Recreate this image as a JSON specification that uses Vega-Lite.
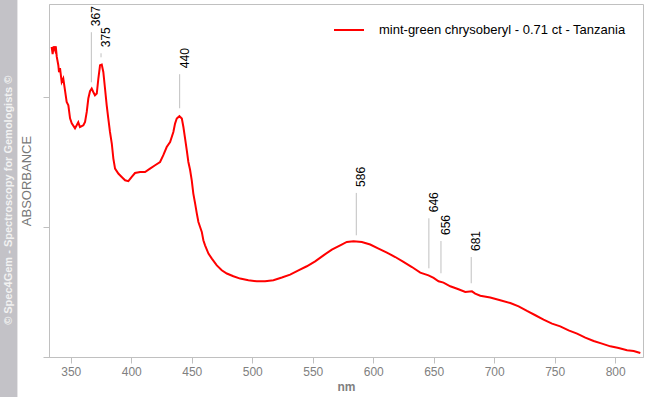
{
  "$schema": "https://vega.github.io/schema/vega-lite/v6.json",
  "width": 594,
  "height": 353,
  "autosize": {"type": "none"},
  "padding": {"left": 49, "top": 4, "right": 2, "bottom": 40},
  "background": "white",
  "config": {
    "view": {"stroke": "#c0c0c0", "strokeWidth": 1},
    "font": "Liberation Sans",
    "axis": {
      "grid": false,
      "domainColor": "#c0c0c0",
      "tickColor": "#c0c0c0",
      "tickSize": 6,
      "labelColor": "#808080",
      "labelFont": "Liberation Sans",
      "labelFontSize": 12,
      "titleColor": "#808080",
      "titleFont": "Liberation Sans"
    }
  },
  "datasets": {
    "spectrum": [
      {"nm": 334.2, "a": 2.385, "s": "mint-green chrysoberyl - 0.71 ct - Tanzania"},
      {"nm": 335.0, "a": 2.33, "s": "mint-green chrysoberyl - 0.71 ct - Tanzania"},
      {"nm": 335.8, "a": 2.39, "s": "mint-green chrysoberyl - 0.71 ct - Tanzania"},
      {"nm": 337.0, "a": 2.36, "s": "mint-green chrysoberyl - 0.71 ct - Tanzania"},
      {"nm": 337.6, "a": 2.39, "s": "mint-green chrysoberyl - 0.71 ct - Tanzania"},
      {"nm": 338.4, "a": 2.31, "s": "mint-green chrysoberyl - 0.71 ct - Tanzania"},
      {"nm": 339.7, "a": 2.244, "s": "mint-green chrysoberyl - 0.71 ct - Tanzania"},
      {"nm": 340.3, "a": 2.19, "s": "mint-green chrysoberyl - 0.71 ct - Tanzania"},
      {"nm": 341.1, "a": 2.221, "s": "mint-green chrysoberyl - 0.71 ct - Tanzania"},
      {"nm": 342.5, "a": 2.115, "s": "mint-green chrysoberyl - 0.71 ct - Tanzania"},
      {"nm": 343.8, "a": 2.142, "s": "mint-green chrysoberyl - 0.71 ct - Tanzania"},
      {"nm": 345.2, "a": 2.052, "s": "mint-green chrysoberyl - 0.71 ct - Tanzania"},
      {"nm": 346.6, "a": 1.962, "s": "mint-green chrysoberyl - 0.71 ct - Tanzania"},
      {"nm": 348.0, "a": 1.936, "s": "mint-green chrysoberyl - 0.71 ct - Tanzania"},
      {"nm": 349.4, "a": 1.836, "s": "mint-green chrysoberyl - 0.71 ct - Tanzania"},
      {"nm": 350.8, "a": 1.798, "s": "mint-green chrysoberyl - 0.71 ct - Tanzania"},
      {"nm": 353.5, "a": 1.759, "s": "mint-green chrysoberyl - 0.71 ct - Tanzania"},
      {"nm": 354.9, "a": 1.782, "s": "mint-green chrysoberyl - 0.71 ct - Tanzania"},
      {"nm": 356.2, "a": 1.805, "s": "mint-green chrysoberyl - 0.71 ct - Tanzania"},
      {"nm": 357.6, "a": 1.769, "s": "mint-green chrysoberyl - 0.71 ct - Tanzania"},
      {"nm": 360.4, "a": 1.782, "s": "mint-green chrysoberyl - 0.71 ct - Tanzania"},
      {"nm": 361.8, "a": 1.808, "s": "mint-green chrysoberyl - 0.71 ct - Tanzania"},
      {"nm": 363.2, "a": 1.885, "s": "mint-green chrysoberyl - 0.71 ct - Tanzania"},
      {"nm": 364.5, "a": 1.988, "s": "mint-green chrysoberyl - 0.71 ct - Tanzania"},
      {"nm": 365.9, "a": 2.044, "s": "mint-green chrysoberyl - 0.71 ct - Tanzania"},
      {"nm": 367.3, "a": 2.065, "s": "mint-green chrysoberyl - 0.71 ct - Tanzania"},
      {"nm": 368.6, "a": 2.038, "s": "mint-green chrysoberyl - 0.71 ct - Tanzania"},
      {"nm": 370.0, "a": 2.013, "s": "mint-green chrysoberyl - 0.71 ct - Tanzania"},
      {"nm": 371.5, "a": 2.026, "s": "mint-green chrysoberyl - 0.71 ct - Tanzania"},
      {"nm": 372.8, "a": 2.142, "s": "mint-green chrysoberyl - 0.71 ct - Tanzania"},
      {"nm": 374.2, "a": 2.244, "s": "mint-green chrysoberyl - 0.71 ct - Tanzania"},
      {"nm": 375.6, "a": 2.249, "s": "mint-green chrysoberyl - 0.71 ct - Tanzania"},
      {"nm": 376.9, "a": 2.192, "s": "mint-green chrysoberyl - 0.71 ct - Tanzania"},
      {"nm": 378.3, "a": 2.065, "s": "mint-green chrysoberyl - 0.71 ct - Tanzania"},
      {"nm": 379.7, "a": 1.936, "s": "mint-green chrysoberyl - 0.71 ct - Tanzania"},
      {"nm": 381.0, "a": 1.836, "s": "mint-green chrysoberyl - 0.71 ct - Tanzania"},
      {"nm": 382.4, "a": 1.731, "s": "mint-green chrysoberyl - 0.71 ct - Tanzania"},
      {"nm": 383.9, "a": 1.642, "s": "mint-green chrysoberyl - 0.71 ct - Tanzania"},
      {"nm": 385.2, "a": 1.526, "s": "mint-green chrysoberyl - 0.71 ct - Tanzania"},
      {"nm": 386.6, "a": 1.449, "s": "mint-green chrysoberyl - 0.71 ct - Tanzania"},
      {"nm": 389.3, "a": 1.411, "s": "mint-green chrysoberyl - 0.71 ct - Tanzania"},
      {"nm": 392.1, "a": 1.385, "s": "mint-green chrysoberyl - 0.71 ct - Tanzania"},
      {"nm": 394.9, "a": 1.359, "s": "mint-green chrysoberyl - 0.71 ct - Tanzania"},
      {"nm": 397.6, "a": 1.352, "s": "mint-green chrysoberyl - 0.71 ct - Tanzania"},
      {"nm": 400.4, "a": 1.385, "s": "mint-green chrysoberyl - 0.71 ct - Tanzania"},
      {"nm": 403.1, "a": 1.415, "s": "mint-green chrysoberyl - 0.71 ct - Tanzania"},
      {"nm": 407.3, "a": 1.423, "s": "mint-green chrysoberyl - 0.71 ct - Tanzania"},
      {"nm": 411.4, "a": 1.423, "s": "mint-green chrysoberyl - 0.71 ct - Tanzania"},
      {"nm": 415.5, "a": 1.449, "s": "mint-green chrysoberyl - 0.71 ct - Tanzania"},
      {"nm": 419.7, "a": 1.475, "s": "mint-green chrysoberyl - 0.71 ct - Tanzania"},
      {"nm": 423.8, "a": 1.5, "s": "mint-green chrysoberyl - 0.71 ct - Tanzania"},
      {"nm": 426.5, "a": 1.552, "s": "mint-green chrysoberyl - 0.71 ct - Tanzania"},
      {"nm": 429.3, "a": 1.615, "s": "mint-green chrysoberyl - 0.71 ct - Tanzania"},
      {"nm": 432.1, "a": 1.654, "s": "mint-green chrysoberyl - 0.71 ct - Tanzania"},
      {"nm": 434.8, "a": 1.731, "s": "mint-green chrysoberyl - 0.71 ct - Tanzania"},
      {"nm": 436.2, "a": 1.795, "s": "mint-green chrysoberyl - 0.71 ct - Tanzania"},
      {"nm": 437.6, "a": 1.834, "s": "mint-green chrysoberyl - 0.71 ct - Tanzania"},
      {"nm": 439.8, "a": 1.852, "s": "mint-green chrysoberyl - 0.71 ct - Tanzania"},
      {"nm": 441.8, "a": 1.834, "s": "mint-green chrysoberyl - 0.71 ct - Tanzania"},
      {"nm": 443.1, "a": 1.769, "s": "mint-green chrysoberyl - 0.71 ct - Tanzania"},
      {"nm": 444.5, "a": 1.68, "s": "mint-green chrysoberyl - 0.71 ct - Tanzania"},
      {"nm": 445.9, "a": 1.59, "s": "mint-green chrysoberyl - 0.71 ct - Tanzania"},
      {"nm": 447.2, "a": 1.5, "s": "mint-green chrysoberyl - 0.71 ct - Tanzania"},
      {"nm": 448.6, "a": 1.44, "s": "mint-green chrysoberyl - 0.71 ct - Tanzania"},
      {"nm": 450.0, "a": 1.359, "s": "mint-green chrysoberyl - 0.71 ct - Tanzania"},
      {"nm": 451.3, "a": 1.257, "s": "mint-green chrysoberyl - 0.71 ct - Tanzania"},
      {"nm": 452.8, "a": 1.18, "s": "mint-green chrysoberyl - 0.71 ct - Tanzania"},
      {"nm": 454.2, "a": 1.103, "s": "mint-green chrysoberyl - 0.71 ct - Tanzania"},
      {"nm": 455.5, "a": 1.038, "s": "mint-green chrysoberyl - 0.71 ct - Tanzania"},
      {"nm": 456.9, "a": 1.0, "s": "mint-green chrysoberyl - 0.71 ct - Tanzania"},
      {"nm": 458.3, "a": 0.962, "s": "mint-green chrysoberyl - 0.71 ct - Tanzania"},
      {"nm": 459.6, "a": 0.898, "s": "mint-green chrysoberyl - 0.71 ct - Tanzania"},
      {"nm": 461.0, "a": 0.859, "s": "mint-green chrysoberyl - 0.71 ct - Tanzania"},
      {"nm": 463.8, "a": 0.795, "s": "mint-green chrysoberyl - 0.71 ct - Tanzania"},
      {"nm": 466.6, "a": 0.757, "s": "mint-green chrysoberyl - 0.71 ct - Tanzania"},
      {"nm": 470.7, "a": 0.705, "s": "mint-green chrysoberyl - 0.71 ct - Tanzania"},
      {"nm": 474.8, "a": 0.667, "s": "mint-green chrysoberyl - 0.71 ct - Tanzania"},
      {"nm": 479.0, "a": 0.642, "s": "mint-green chrysoberyl - 0.71 ct - Tanzania"},
      {"nm": 484.4, "a": 0.621, "s": "mint-green chrysoberyl - 0.71 ct - Tanzania"},
      {"nm": 490.0, "a": 0.603, "s": "mint-green chrysoberyl - 0.71 ct - Tanzania"},
      {"nm": 496.8, "a": 0.59, "s": "mint-green chrysoberyl - 0.71 ct - Tanzania"},
      {"nm": 503.8, "a": 0.582, "s": "mint-green chrysoberyl - 0.71 ct - Tanzania"},
      {"nm": 510.6, "a": 0.582, "s": "mint-green chrysoberyl - 0.71 ct - Tanzania"},
      {"nm": 517.5, "a": 0.59, "s": "mint-green chrysoberyl - 0.71 ct - Tanzania"},
      {"nm": 524.5, "a": 0.611, "s": "mint-green chrysoberyl - 0.71 ct - Tanzania"},
      {"nm": 531.3, "a": 0.634, "s": "mint-green chrysoberyl - 0.71 ct - Tanzania"},
      {"nm": 538.2, "a": 0.667, "s": "mint-green chrysoberyl - 0.71 ct - Tanzania"},
      {"nm": 545.1, "a": 0.698, "s": "mint-green chrysoberyl - 0.71 ct - Tanzania"},
      {"nm": 552.0, "a": 0.736, "s": "mint-green chrysoberyl - 0.71 ct - Tanzania"},
      {"nm": 558.9, "a": 0.782, "s": "mint-green chrysoberyl - 0.71 ct - Tanzania"},
      {"nm": 565.8, "a": 0.826, "s": "mint-green chrysoberyl - 0.71 ct - Tanzania"},
      {"nm": 572.7, "a": 0.859, "s": "mint-green chrysoberyl - 0.71 ct - Tanzania"},
      {"nm": 578.2, "a": 0.885, "s": "mint-green chrysoberyl - 0.71 ct - Tanzania"},
      {"nm": 583.7, "a": 0.89, "s": "mint-green chrysoberyl - 0.71 ct - Tanzania"},
      {"nm": 590.6, "a": 0.885, "s": "mint-green chrysoberyl - 0.71 ct - Tanzania"},
      {"nm": 597.5, "a": 0.865, "s": "mint-green chrysoberyl - 0.71 ct - Tanzania"},
      {"nm": 604.4, "a": 0.834, "s": "mint-green chrysoberyl - 0.71 ct - Tanzania"},
      {"nm": 611.3, "a": 0.803, "s": "mint-green chrysoberyl - 0.71 ct - Tanzania"},
      {"nm": 618.2, "a": 0.769, "s": "mint-green chrysoberyl - 0.71 ct - Tanzania"},
      {"nm": 625.0, "a": 0.731, "s": "mint-green chrysoberyl - 0.71 ct - Tanzania"},
      {"nm": 632.0, "a": 0.692, "s": "mint-green chrysoberyl - 0.71 ct - Tanzania"},
      {"nm": 638.9, "a": 0.649, "s": "mint-green chrysoberyl - 0.71 ct - Tanzania"},
      {"nm": 645.7, "a": 0.628, "s": "mint-green chrysoberyl - 0.71 ct - Tanzania"},
      {"nm": 649.9, "a": 0.608, "s": "mint-green chrysoberyl - 0.71 ct - Tanzania"},
      {"nm": 654.0, "a": 0.582, "s": "mint-green chrysoberyl - 0.71 ct - Tanzania"},
      {"nm": 658.1, "a": 0.572, "s": "mint-green chrysoberyl - 0.71 ct - Tanzania"},
      {"nm": 663.7, "a": 0.544, "s": "mint-green chrysoberyl - 0.71 ct - Tanzania"},
      {"nm": 670.5, "a": 0.521, "s": "mint-green chrysoberyl - 0.71 ct - Tanzania"},
      {"nm": 676.1, "a": 0.5, "s": "mint-green chrysoberyl - 0.71 ct - Tanzania"},
      {"nm": 681.6, "a": 0.505, "s": "mint-green chrysoberyl - 0.71 ct - Tanzania"},
      {"nm": 684.3, "a": 0.488, "s": "mint-green chrysoberyl - 0.71 ct - Tanzania"},
      {"nm": 688.5, "a": 0.471, "s": "mint-green chrysoberyl - 0.71 ct - Tanzania"},
      {"nm": 696.7, "a": 0.457, "s": "mint-green chrysoberyl - 0.71 ct - Tanzania"},
      {"nm": 705.0, "a": 0.436, "s": "mint-green chrysoberyl - 0.71 ct - Tanzania"},
      {"nm": 713.3, "a": 0.415, "s": "mint-green chrysoberyl - 0.71 ct - Tanzania"},
      {"nm": 720.2, "a": 0.39, "s": "mint-green chrysoberyl - 0.71 ct - Tanzania"},
      {"nm": 727.1, "a": 0.354, "s": "mint-green chrysoberyl - 0.71 ct - Tanzania"},
      {"nm": 734.0, "a": 0.321, "s": "mint-green chrysoberyl - 0.71 ct - Tanzania"},
      {"nm": 740.8, "a": 0.288, "s": "mint-green chrysoberyl - 0.71 ct - Tanzania"},
      {"nm": 747.8, "a": 0.257, "s": "mint-green chrysoberyl - 0.71 ct - Tanzania"},
      {"nm": 754.6, "a": 0.236, "s": "mint-green chrysoberyl - 0.71 ct - Tanzania"},
      {"nm": 761.5, "a": 0.205, "s": "mint-green chrysoberyl - 0.71 ct - Tanzania"},
      {"nm": 768.5, "a": 0.18, "s": "mint-green chrysoberyl - 0.71 ct - Tanzania"},
      {"nm": 775.3, "a": 0.149, "s": "mint-green chrysoberyl - 0.71 ct - Tanzania"},
      {"nm": 782.2, "a": 0.123, "s": "mint-green chrysoberyl - 0.71 ct - Tanzania"},
      {"nm": 789.1, "a": 0.103, "s": "mint-green chrysoberyl - 0.71 ct - Tanzania"},
      {"nm": 796.0, "a": 0.082, "s": "mint-green chrysoberyl - 0.71 ct - Tanzania"},
      {"nm": 802.9, "a": 0.069, "s": "mint-green chrysoberyl - 0.71 ct - Tanzania"},
      {"nm": 809.8, "a": 0.052, "s": "mint-green chrysoberyl - 0.71 ct - Tanzania"},
      {"nm": 815.3, "a": 0.046, "s": "mint-green chrysoberyl - 0.71 ct - Tanzania"},
      {"nm": 820.8, "a": 0.031, "s": "mint-green chrysoberyl - 0.71 ct - Tanzania"}
    ],
    "peaks": [
      {"nm": 367, "top": 2.498, "bot": 2.113, "label": "367"},
      {"nm": 375, "top": 2.336, "bot": 2.305, "label": "375"},
      {"nm": 440, "top": 2.175, "bot": 1.913, "label": "440"},
      {"nm": 586, "top": 1.262, "bot": 0.936, "label": "586"},
      {"nm": 646, "top": 1.067, "bot": 0.682, "label": "646"},
      {"nm": 656, "top": 0.892, "bot": 0.644, "label": "656"},
      {"nm": 681, "top": 0.769, "bot": 0.567, "label": "681"}
    ]
  },
  "layer": [
    {
      "data": {"values": [{}]},
      "mark": {"type": "rect", "color": "#c3c2c7", "clip": false},
      "encoding": {
        "x": {"datum": 291.4, "type": "quantitative", "scale": {"domain": [332, 823], "nice": false, "zero": false}},
        "x2": {"datum": 305.9},
        "y": {"datum": -0.32, "type": "quantitative", "scale": {"domain": [0, 2.715], "nice": false, "zero": false}},
        "y2": {"datum": 2.76}
      }
    },
    {
      "data": {"values": [{"t": "© Spec4Gem - Spectroscopy for Gemologists ©"}]},
      "mark": {"type": "text", "angle": 270, "align": "center", "baseline": "middle", "font": "Liberation Sans", "fontSize": 11, "fontWeight": "bold", "color": "#f2f2f2"},
      "encoding": {
        "x": {"datum": 298.6, "type": "quantitative"},
        "y": {"datum": 1.205, "type": "quantitative"},
        "text": {"field": "t"}
      }
    },
    {
      "data": {"name": "peaks"},
      "mark": {"type": "rule", "color": "#c0c0c0", "strokeWidth": 1},
      "encoding": {
        "x": {"field": "nm", "type": "quantitative"},
        "y": {"field": "top", "type": "quantitative"},
        "y2": {"field": "bot"}
      }
    },
    {
      "data": {"name": "peaks"},
      "mark": {"type": "text", "angle": 270, "align": "left", "baseline": "top", "dx": 6, "font": "Liberation Sans", "fontSize": 12, "color": "#000000"},
      "encoding": {
        "x": {"field": "nm", "type": "quantitative"},
        "y": {"field": "top", "type": "quantitative"},
        "text": {"field": "label"}
      }
    },
    {
      "data": {"name": "spectrum"},
      "mark": {"type": "line", "strokeWidth": 2, "clip": true},
      "encoding": {
        "x": {
          "field": "nm", "type": "quantitative",
          "axis": {"values": [350, 400, 450, 500, 550, 600, 650, 700, 750, 800], "title": "nm", "titleFontWeight": "bold", "titleFontSize": 12, "labelPadding": 3, "titlePadding": 4, "labelFlush": false}
        },
        "y": {
          "field": "a", "type": "quantitative",
          "axis": {"values": [0, 1, 2], "labels": false, "title": "ABSORBANCE", "titleFontWeight": "normal", "titleFontSize": 13, "titlePadding": 9, "titleColor": "#777777"}
        },
        "color": {
          "field": "s", "type": "nominal",
          "scale": {"range": ["#ff0000"]},
          "legend": {"title": null, "orient": "none", "legendX": 284, "legendY": 10, "symbolType": "stroke", "symbolSize": 900, "symbolStrokeWidth": 2, "labelFont": "Liberation Sans", "labelFontSize": 13, "labelColor": "#000000", "labelOffset": 14, "labelLimit": 0, "padding": 0}
        }
      }
    }
  ]
}
